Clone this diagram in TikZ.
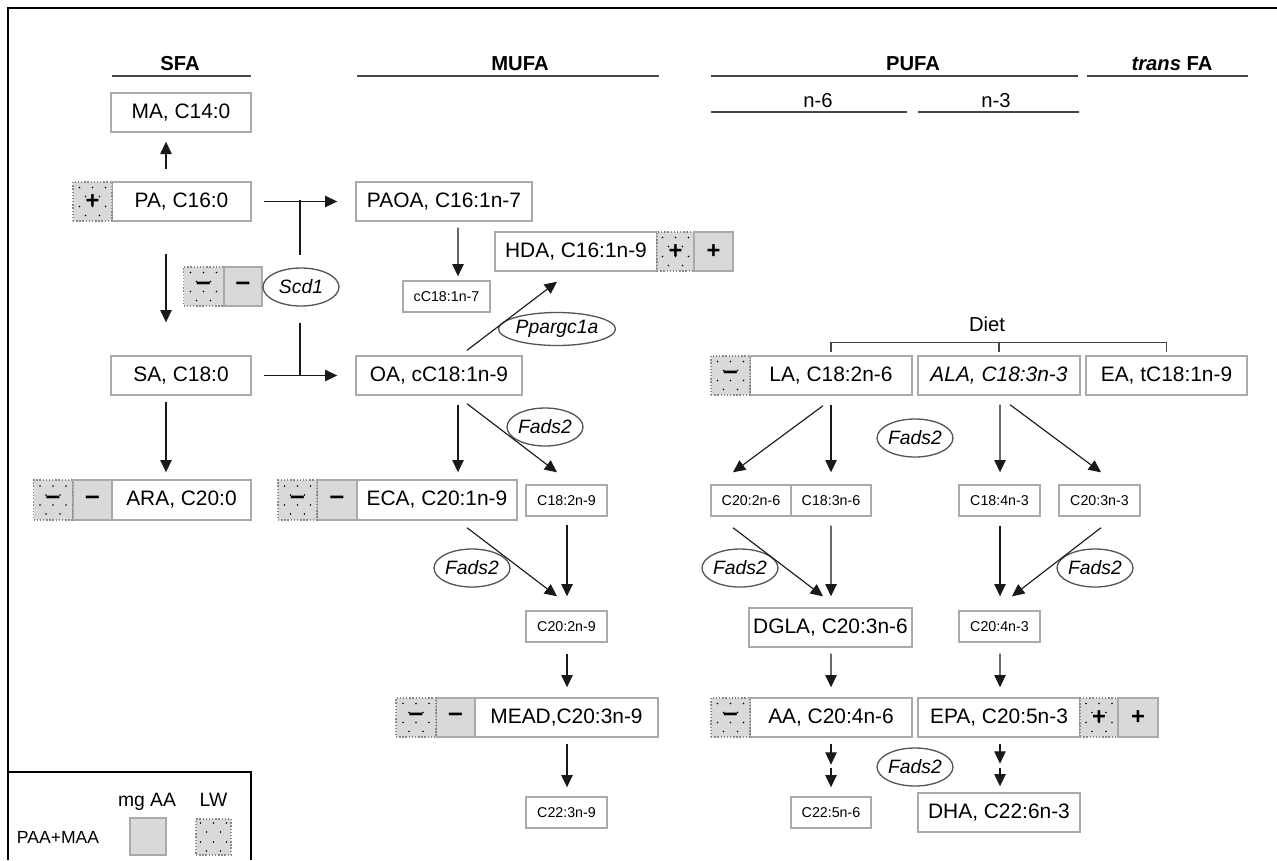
\documentclass[tikz,border=0pt]{standalone}
\usepackage{fontspec}
\setmainfont{Liberation Sans}
\usetikzlibrary{shapes.geometric,arrows.meta,calc}
\newcommand\FSbig{\fontsize{11.9}{14}\selectfont}
\newcommand\FSsm{\fontsize{8.1}{10}\selectfont}
\newcommand\FSgene{\fontsize{11}{13}\selectfont\itshape}
\newcommand\FShdr{\fontsize{11.5}{14}\selectfont}
\newcommand\bigdash{{\fontsize{15}{15}\selectfont\bfseries –}}
\newcommand\bigplus{{\fontsize{13.5}{14}\selectfont\bfseries +}}
\definecolor{bxc}{RGB}{170,170,170}
\definecolor{cellfill}{RGB}{217,217,217}
\definecolor{arrc}{RGB}{25,25,25}
\definecolor{elc}{RGB}{85,85,85}
\definecolor{linec}{RGB}{70,70,70}
\begin{document}
\begin{tikzpicture}[x=0.02cm,y=-0.02cm,
  box/.style={draw=bxc,line width=0.8pt,minimum height=0.78cm,inner sep=0pt,font=\FSbig},
  sbox/.style={draw=bxc,line width=0.8pt,minimum height=0.62cm,inner sep=0pt,font=\FSsm},
  gcell/.style={draw=bxc,line width=0.8pt,fill=cellfill,minimum width=0.78cm,minimum height=0.78cm,inner sep=0pt,font=\FSbig},
  dcell/.style={gcell,draw=bxc!80!black,densely dotted,path picture={\foreach \dx/\dy in {-13/-14,0/-14,13/-14,-7/-5,7/-5,-13/5,0/5,13/5,-7/14,7/14} \fill[black] ([shift={(\dx,\dy)}]path picture bounding box.center) circle (0.5pt);}},
  gene/.style={ellipse,draw=elc,line width=0.75pt,inner sep=0pt,minimum width=1.52cm,minimum height=0.76cm,font=\FSgene},
  arr/.style={draw=arrc,line width=0.65pt,-{Triangle[length=7pt,width=6.5pt]}},
  ln/.style={draw=arrc,line width=0.65pt},
  hl/.style={draw=linec,line width=0.7pt},
  hdr/.style={font=\FShdr\bfseries,anchor=base,inner sep=0pt}
]
\useasboundingbox (0,0) rectangle (1277,860);
% frame
\draw[line width=0.9pt] (8,860) -- (8,8) -- (1277,8);
% headers
\node[hdr] (hSFA) at (180,70) {SFA};
\draw[hl] (112,76) -- (251,76);
\node[hdr] (hMUFA) at (520,70) {MUFA};
\draw[hl] (357,76) -- (659,76);
\node[hdr] (hPUFA) at (913,70) {PUFA};
\draw[hl] (711,76) -- (1078,76);
\node[hdr] (hTFA) at (1172,70) {\textit{trans} FA};
\draw[hl] (1087,76) -- (1248,76);
\node[font=\FShdr,anchor=base,inner sep=0pt] (hn6) at (818,107) {n-6};
\draw[hl] (711,112) -- (907,112);
\node[font=\FShdr,anchor=base,inner sep=0pt] (hn3) at (996,107) {n-3};
\draw[hl] (918,112) -- (1079,112);

% SFA column
\node[box,minimum width=2.8cm] (MA) at (181,112.5) {MA, C14:0};
\node[box,minimum width=2.78cm] (PA) at (181.5,201.5) {PA, C16:0};
\node[dcell] (PAd) at (92.5,201.5) {\bigplus};
\node[box,minimum width=2.8cm] (SA) at (181,375.5) {SA, C18:0};
\node[box,minimum width=2.78cm,minimum height=0.8cm] (ARA) at (181.5,500) {ARA, C20:0};
\node[gcell,minimum height=0.8cm] (ARAg) at (92.5,500) {\bigdash};
\node[dcell,minimum height=0.8cm] (ARAd) at (53,500) {\bigdash};
\node[dcell,minimum width=0.8cm] (Sd) at (203.5,286.5) {\bigdash};
\node[gcell,minimum width=0.76cm] (Sg) at (243,286.5) {\bigdash};
\node[gene] (Scd1) at (301,287) {Scd1};

% MUFA column
\node[box,minimum width=3.52cm] (PAOA) at (444,201.5) {PAOA, C16:1n-7};
\node[sbox,minimum width=1.74cm] (c18n7) at (446.5,296.5) {cC18:1n-7};
\node[box,minimum width=3.24cm] (HDA) at (576,251.5) {HDA, C16:1n-9};
\node[dcell,minimum width=0.74cm] (HDAd) at (675.5,251.5) {\bigplus};
\node[gcell] (HDAg) at (713.5,251.5) {\bigplus};
\node[box,minimum width=3.32cm] (OA) at (439,375.5) {OA, cC18:1n-9};
\node[gene,minimum width=2.02cm,minimum height=0.66cm] (Ppar) at (557,329) {Ppargc1a};
\node[gene] (F1) at (545,427) {Fads2};
\node[box,minimum width=3.2cm,minimum height=0.8cm] (ECA) at (437,500) {ECA, C20:1n-9};
\node[gcell,minimum height=0.8cm] (ECAg) at (337,500) {\bigdash};
\node[dcell,minimum height=0.8cm] (ECAd) at (297.5,500) {\bigdash};
\node[sbox,minimum width=1.62cm] (c182n9) at (566.5,500.5) {C18:2n-9};
\node[gene] (F2) at (472,568) {Fads2};
\node[sbox,minimum width=1.62cm] (c202n9) at (566.5,626.5) {C20:2n-9};
\node[box,minimum width=3.66cm] (MEAD) at (566.5,717.5) {MEAD,C20:3n-9};
\node[gcell] (MEADg) at (455.5,717.5) {\bigdash};
\node[dcell,minimum width=0.8cm] (MEADd) at (416,717.5) {\bigdash};
\node[sbox,minimum width=1.62cm] (c223n9) at (566.5,812.5) {C22:3n-9};

% PUFA
\node[font=\FShdr,anchor=base,inner sep=0pt] (diet) at (987,331) {Diet};
\node[box,minimum width=3.24cm] (LA) at (831,375.5) {LA, C18:2n-6};
\node[dcell] (LAd) at (730.5,375.5) {\bigdash};
\node[box,minimum width=3.24cm] (ALA) at (999,375.5) {\itshape ALA, C18:3n-3};
\node[box,minimum width=3.22cm] (EA) at (1166.5,375.5) {EA, tC18:1n-9};
\draw[hl] ($(LA.north)+(0,-3)$) -- ($(LA.north)+(0,-13)$) -- ($(EA.north)+(0,-13)$) -- ($(EA.north)+(0,-3)$);
\draw[hl] ($(ALA.north)+(0,-13)$) -- ($(ALA.north)+(0,-3)$);
\node[sbox,minimum width=1.6cm] (c202n6) at (751,500.5) {C20:2n-6};
\node[sbox,minimum width=1.6cm] (c183n6) at (831,500.5) {C18:3n-6};
\node[gene] (F3) at (915,438) {Fads2};
\node[sbox,minimum width=1.62cm] (c184n3) at (999.5,500.5) {C18:4n-3};
\node[sbox,minimum width=1.62cm] (c203n3) at (1099.5,500.5) {C20:3n-3};
\node[gene] (F4) at (740,568) {Fads2};
\node[gene] (F5) at (1095,568) {Fads2};
\node[box,minimum width=3.26cm] (DGLA) at (830.5,627.5) {DGLA, C20:3n-6};
\node[sbox,minimum width=1.62cm] (c204n3) at (999.5,626.5) {C20:4n-3};
\node[box,minimum width=3.24cm] (AA) at (831,717.5) {AA, C20:4n-6};
\node[dcell] (AAd) at (730.5,717.5) {\bigdash};
\node[box,minimum width=3.24cm] (EPA) at (999,717.5) {EPA, C20:5n-3};
\node[dcell,minimum width=0.76cm] (EPAd) at (1099,717.5) {\bigplus};
\node[gcell,minimum width=0.8cm] (EPAg) at (1138,717.5) {\bigplus};
\node[gene] (F6) at (915,767) {Fads2};
\node[sbox,minimum width=1.6cm] (c225n6) at (831,812.5) {C22:5n-6};
\node[box,minimum width=3.24cm] (DHA) at (999,812.5) {DHA, C22:6n-3};

% SFA arrows
\draw[arr] ($(PA.north)+(-15.5,-12)$) -- ($(MA.south)+(-15,9)$);
\draw[arr] ($(PA.south)+(-15.5,32)$) -- ($(SA.north)+(-15,-33)$);
\draw[arr] ($(SA.south)+(-15,6)$) -- ($(ARA.north)+(-15.5,-7)$);
\draw[arr] ($(PA.east)+(12,0)$) -- ($(PAOA.west)+(-18,0)$);
\draw[ln] ($(Scd1.north)+(-1,-12)$) -- ($(Scd1.north)+(-1,-67)$);
\draw[arr] ($(SA.east)+(12,0)$) -- ($(OA.west)+(-18,0)$);
\draw[ln] ($(Scd1.south)+(-1,16)$) -- ($(Scd1.south)+(-1,69)$);

% MUFA arrows
\draw[arr] ($(PAOA.south)+(14,6)$) -- ($(c18n7.north)+(11.5,-4)$);
\draw[arr] ($(OA.north)+(28,-5)$) -- ($(HDA.south)+(-19,10)$);
\draw[arr] ($(OA.south)+(19,9)$) -- ($(ECA.north)+(21,-7)$);
\draw[arr] ($(OA.south)+(28,8)$) -- ($(c182n9.north)+(-9.5,-12)$);
\draw[arr] ($(ECA.south)+(30,7)$) -- ($(c202n9.north)+(-9.5,-14)$);
\draw[arr] ($(c182n9.south)+(0.5,8)$) -- ($(c202n9.north)+(0.5,-14)$);
\draw[arr] ($(c202n9.south)+(0.5,11)$) -- ($(MEAD.north)+(0.5,-10)$);
\draw[arr] ($(MEAD.south)+(0.5,6)$) -- ($(c223n9.north)+(0.5,-9)$);

% PUFA arrows
\draw[arr] ($(LA.south)+(-8,10)$) -- ($(c202n6.north)+(-18,-12)$);
\draw[arr] ($(LA.south)+(0,9)$) -- ($(c183n6.north)+(0,-12)$);
\draw[arr] ($(ALA.south)+(1,9)$) -- ($(c184n3.north)+(0.5,-12)$);
\draw[arr] ($(ALA.south)+(11,9)$) -- ($(c203n3.north)+(1.5,-12)$);
\draw[arr] ($(c202n6.south)+(-18,11)$) -- ($(DGLA.north)+(-7.5,-11)$);
\draw[arr] ($(c183n6.south)+(0,9)$) -- ($(DGLA.north)+(0.5,-11)$);
\draw[arr] ($(c184n3.south)+(0.5,9)$) -- ($(c204n3.north)+(0.5,-14)$);
\draw[arr] ($(c203n3.south)+(1.5,11)$) -- ($(c204n3.north)+(12.5,-14)$);
\draw[arr] ($(DGLA.south)+(0.5,6)$) -- ($(AA.north)+(0,-10)$);
\draw[arr] ($(c204n3.south)+(0.5,11)$) -- ($(EPA.north)+(1,-10)$);
\draw[arr] ($(AA.south)+(0,6)$) -- ($(AA.south)+(0,27)$);
\draw[arr] ($(AA.south)+(0,30)$) -- ($(c225n6.north)+(0,-9)$);
\draw[arr] ($(EPA.south)+(1,6)$) -- ($(EPA.south)+(1,26)$);
\draw[arr] ($(EPA.south)+(1,30)$) -- ($(DHA.north)+(1,-6)$);

% legend
\draw[line width=0.9pt] (8,772) -- (251,772) -- (251,860);
\node[font=\fontsize{11}{13}\selectfont,anchor=base,inner sep=0pt] (lmg) at (147,806) {mg AA};
\node[font=\fontsize{11}{13}\selectfont,anchor=base,inner sep=0pt] (llw) at (213.5,806) {LW};
\node[font=\fontsize{10}{12}\selectfont,anchor=base,inner sep=0pt] (lpaa) at (58,843) {PAA+MAA};
\node[gcell,minimum width=0.72cm,minimum height=0.74cm] (lg) at (148,836.5) {};
\node[dcell,minimum width=0.7cm,minimum height=0.72cm] (ld) at (213.5,837) {};
\end{tikzpicture}
\end{document}
